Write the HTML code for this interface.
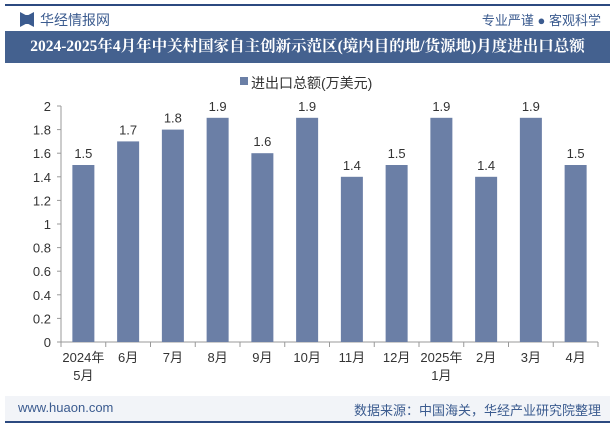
<!DOCTYPE html>
<html><head><meta charset="utf-8"><style>
body{margin:0;width:615px;height:427px;background:#fff;font-family:"Liberation Sans","Noto Sans CJK SC",sans-serif;overflow:hidden;position:relative}
.abs{position:absolute}
</style></head><body>
<div class="abs" style="left:5px;top:4px;width:605px;height:2px;background:#2c4a80"></div>
<div class="abs" style="left:20px;top:12px;width:14px;height:15px;background:#3b5b8f;clip-path:polygon(0 0,40% 20%,60% 20%,100% 0,100% 100%,60% 80%,40% 80%,0 100%)"></div>
<div class="abs" style="left:40px;top:10px;font-size:14px;color:#3b5b8f">华经情报网</div>
<div class="abs" style="right:14px;top:10px;font-size:13px;color:#3b5b8f">专业严谨 ● 客观科学</div>
<div class="abs" style="left:5px;top:31px;width:605px;height:32px;background:#44618f;color:#fff;font-family:'Liberation Serif','Noto Serif CJK SC',serif;font-weight:bold;font-size:15.5px;line-height:32px;text-align:center;white-space:nowrap">2024-2025年4月年中关村国家自主创新示范区(境内目的地/货源地)月度进出口总额</div>
<svg class="abs" style="left:0;top:0" width="615" height="427" id="chart"></svg>
<div class="abs" style="left:5px;top:396px;width:605px;height:25px;background:#f2f4f8"></div>
<div class="abs" style="left:5px;top:421px;width:605px;height:2px;background:#2c4a80"></div>
<div class="abs" style="left:18px;top:400px;font-size:13px;color:#3b5b8f">www.huaon.com</div>
<div class="abs" style="right:14px;top:400px;font-size:13px;color:#3b5b8f">数据来源：中国海关，华经产业研究院整理</div>
<script>
const categories=["2024年\n5月","6月","7月","8月","9月","10月","11月","12月","2025年\n1月","2月","3月","4月"];
const values=[1.5,1.7,1.8,1.9,1.6,1.9,1.4,1.5,1.9,1.4,1.9,1.5];
const yTicks=[0,0.2,0.4,0.6,0.8,1,1.2,1.4,1.6,1.8,2];
const NS="http://www.w3.org/2000/svg";
const svg=document.getElementById('chart');
const x0=61,x1=598,yB=342,yT=106,yMax=2;
const bw=(x1-x0)/categories.length;
const y=v=>yB-(v/yMax)*(yB-yT);
const xc=i=>x0+bw*(i+0.5);
function mk(t,a){const e=document.createElementNS(NS,t);for(const k in a)e.setAttribute(k,a[k]);svg.appendChild(e);return e;}
let e;
e=mk('rect',{x:240,y:77,width:8,height:8,fill:'#6b7fa6'});


e=mk('text',{x:251,y:88,'font-size':14,fill:'#333'});e.textContent='进出口总额(万美元)';


e=mk('line',{x1:x0,y1:yB,x2:x1,y2:yB,stroke:'#999'});


e=mk('line',{x1:x0,y1:yT,x2:x0,y2:yB,stroke:'#999'});


yTicks.forEach(t=>{
 const ln=mk('line',{x1:x0-4,y1:y(t),x2:x0,y2:y(t),stroke:'#999'});
 
 
 const tx=mk('text',{x:x0-10,y:y(t)+5,'font-size':13,fill:'#333','text-anchor':'end'});tx.textContent=String(t);
 
 
});
for(let i=0;i<=categories.length;i++){
 const ln=mk('line',{x1:x0+bw*i,y1:yB,x2:x0+bw*i,y2:yB+5,stroke:'#999'});
 
 
}
categories.forEach((c,i)=>{
 const b=mk('rect',{x:xc(i)-11,y:y(values[i]),width:22,height:yB-y(values[i]),fill:'#6b7fa6'});
 
 
 const v=mk('text',{x:xc(i),y:y(values[i])-7,'font-size':13,fill:'#333','text-anchor':'middle'});v.textContent=values[i];
 
 
 c.split('\n').forEach((s,k)=>{
  const t=mk('text',{x:xc(i),y:yB+20+k*18,'font-size':13,fill:'#333','text-anchor':'middle'});t.textContent=s;
  
  
 });
});
</script>
</body></html>
